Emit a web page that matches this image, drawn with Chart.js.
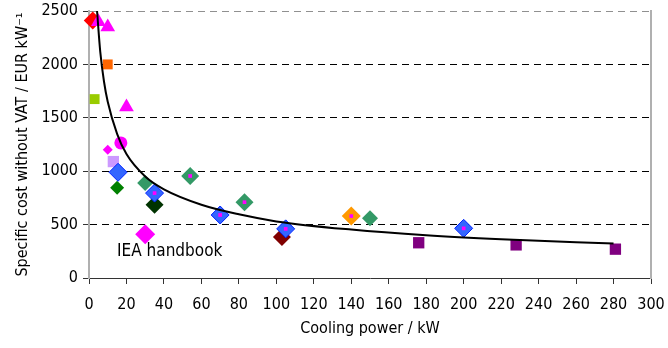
<!DOCTYPE html>
<html>
<head>
<meta charset="utf-8">
<script src="https://cdn.jsdelivr.net/npm/chart.js@4"></script>
<style>
  html, body { margin: 0; padding: 0; background: #fff; }
  #wrap { width: 668px; height: 348px; }
</style>
</head>
<body>
<div id="wrap"><canvas id="costChart" width="668" height="348"></canvas></div>
<script>
// Axis ticks
const xTicks = [0, 20, 40, 60, 80, 100, 120, 140, 160, 180, 200, 220, 240, 260, 280, 300];
const yTicks = [0, 500, 1000, 1500, 2000, 2500];

// Trend line
const trendPower = [4.3, 6, 8, 10, 15, 20, 30, 40, 60, 80, 100, 140, 180, 220, 280];
const trendCost = [2500, 2120, 1840, 1650, 1350, 1160, 950, 830, 686, 596, 530, 453, 400, 363, 322];

// Marker groups: [cooling power kW, cost EUR/kW]
const redDiamonds = [[2, 2410]];
const magentaTriangles = [[5, 2400], [10, 2350], [20, 1600]];
const orangeSquares = [[10, 2000]];
const limeSquares = [[3, 1675]];
const magentaCircles = [[17, 1265]];
const smallMagentaDiamonds = [[10, 1200]];
const lavenderSquares = [[13, 1090]];
const blueDiamonds = [[15.5, 990]];
const greenDiamonds = [[15, 845]];
const seaGreenDiamonds = [[30, 890], [150, 560]];
const seaGreenDotDiamonds = [[54, 955], [83, 710]];
const blueDotDiamonds = [[35, 795], [70, 590], [105, 460], [200, 465]];
const darkGreenDiamonds = [[35, 685]];
const bigMagentaDiamonds = [[30, 410]];
const darkRedDiamonds = [[103, 385]];
const orangeDotDiamonds = [[140, 580]];
const purpleSquares = [[176, 330], [228, 310], [281, 270]];

const FONT = "'DejaVu Sans Condensed', 'DejaVu Sans', sans-serif";

function pts(arr) {
    return arr.map(p => ({ x: p[0], y: p[1] }));
}

function markers(arr, style, radius, fill, border) {
    return {
        type: 'scatter',
        data: pts(arr),
        pointStyle: style,
        pointRadius: radius,
        pointHoverRadius: radius,
        backgroundColor: fill,
        borderColor: border || fill,
        borderWidth: border ? 1 : 0,
        clip: false
    };
}

const trendData = trendPower.map((x, i) => ({ x: x, y: trendCost[i] }));
const dotData = blueDotDiamonds.concat(seaGreenDotDiamonds, orangeDotDiamonds);

// Drawn top first: index 0 ends up on top
const datasets = [
    {
        type: 'line',
        data: trendData,
        borderColor: '#000',
        borderWidth: 2,
        pointRadius: 0,
        fill: false,
        cubicInterpolationMode: 'monotone',
        clip: false
    },
    markers(dotData, 'rect', 2.6, '#FF00FF'),
    markers(blueDotDiamonds, 'rectRot', 9, '#3366FF', '#0022FF'),
    markers(blueDiamonds, 'rectRot', 9, '#3366FF', '#0022FF'),
    markers(seaGreenDotDiamonds, 'rectRot', 9, '#339966'),
    markers(orangeDotDiamonds, 'rectRot', 9.5, '#FF9900'),
    markers(seaGreenDiamonds, 'rectRot', 8, '#339966'),
    markers(darkGreenDiamonds, 'rectRot', 9, '#003300'),
    markers(darkRedDiamonds, 'rectRot', 9, '#800000'),
    markers(bigMagentaDiamonds, 'rectRot', 10, '#FF00FF'),
    markers(greenDiamonds, 'rectRot', 7, '#008000'),
    markers(lavenderSquares, 'rect', 8, '#CC99FF'),
    markers(smallMagentaDiamonds, 'rectRot', 5, '#FF00FF'),
    markers(magentaCircles, 'circle', 6.5, '#FF00FF'),
    markers(magentaTriangles, 'triangle', 8.5, '#FF00FF'),
    markers(redDiamonds, 'rectRot', 9, '#FF0000'),
    markers(orangeSquares, 'rect', 7, '#FF6600'),
    markers(limeSquares, 'rect', 7, '#99CC00'),
    markers(purpleSquares, 'rect', 8, '#800080')
];

// Free text label inside the plot
const noteLabel = { text: 'IEA handbook', x: 15, y: 243 };

const notePlugin = {
    id: 'note',
    afterDatasetsDraw(chart) {
        const ctx = chart.ctx;
        const xs = chart.scales.x, ys = chart.scales.y;
        ctx.save();
        ctx.font = '17px ' + FONT;
        ctx.fillStyle = '#000';
        ctx.textBaseline = 'middle';
        ctx.fillText(noteLabel.text, xs.getPixelForValue(noteLabel.x), ys.getPixelForValue(noteLabel.y));
        ctx.restore();
    }
};

new Chart(document.getElementById('costChart'), {
    type: 'scatter',
    data: { datasets: datasets },
    plugins: [notePlugin],
    options: {
        responsive: false,
        animation: false,
        events: [],
        layout: { padding: { top: 11, right: 0, left: 13, bottom: 10 } },
        plugins: {
            legend: { display: false },
            tooltip: { enabled: false }
        },
        scales: {
            x: {
                type: 'linear',
                min: 0,
                max: 300,
                afterFit: s => {
                    s.height = 60;
                    s.paddingLeft = 0;
                    s.paddingRight = 0;
                },
                afterBuildTicks: s => { s.ticks = xTicks.map(v => ({ value: v })); },
                grid: {
                    drawOnChartArea: false,
                    drawTicks: true,
                    tickLength: 6,
                    tickColor: '#333'
                },
                border: { color: '#333', width: 1 },
                ticks: {
                    color: '#000',
                    padding: 11,
                    maxRotation: 0,
                    font: { family: FONT, size: 16 }
                },
                title: {
                    display: true,
                    text: 'Cooling power / kW',
                    color: '#000',
                    padding: { top: 0, bottom: 0 },
                    font: { family: FONT, size: 16 }
                }
            },
            y: {
                type: 'linear',
                min: 0,
                max: 2500,
                afterFit: s => {
                    s.width = 76;
                    s.paddingTop = 0;
                    s.paddingBottom = 0;
                },
                afterBuildTicks: s => { s.ticks = yTicks.map(v => ({ value: v })); },
                grid: {
                    color: ctx => ctx.tick.value === 0 ? 'rgba(0,0,0,0)' : (ctx.tick.value === 2500 ? '#909090' : '#000'),
                    lineWidth: 1,
                    drawTicks: true,
                    tickLength: 6,
                    tickColor: '#333'
                },
                border: { color: '#b0b0b0', width: 2, dash: [7, 5] },
                ticks: {
                    color: '#000',
                    padding: 5,
                    font: { family: FONT, size: 16 },
                    callback: v => String(v)
                },
                title: {
                    display: true,
                    text: 'Specific cost without VAT / EUR kW\u207B\u00B9',
                    color: '#000',
                    padding: { top: 0, bottom: 2 },
                    font: { family: FONT, size: 16 }
                }
            },
            y2: {
                type: 'linear',
                position: 'right',
                min: 0,
                max: 2500,
                afterFit: s => {
                    s.width = 17;
                    s.paddingTop = 0;
                    s.paddingBottom = 0;
                },
                grid: { display: false },
                ticks: { display: false },
                border: { color: '#b0b0b0', width: 2 }
            }
        }
    }
});
</script>
</body>
</html>
